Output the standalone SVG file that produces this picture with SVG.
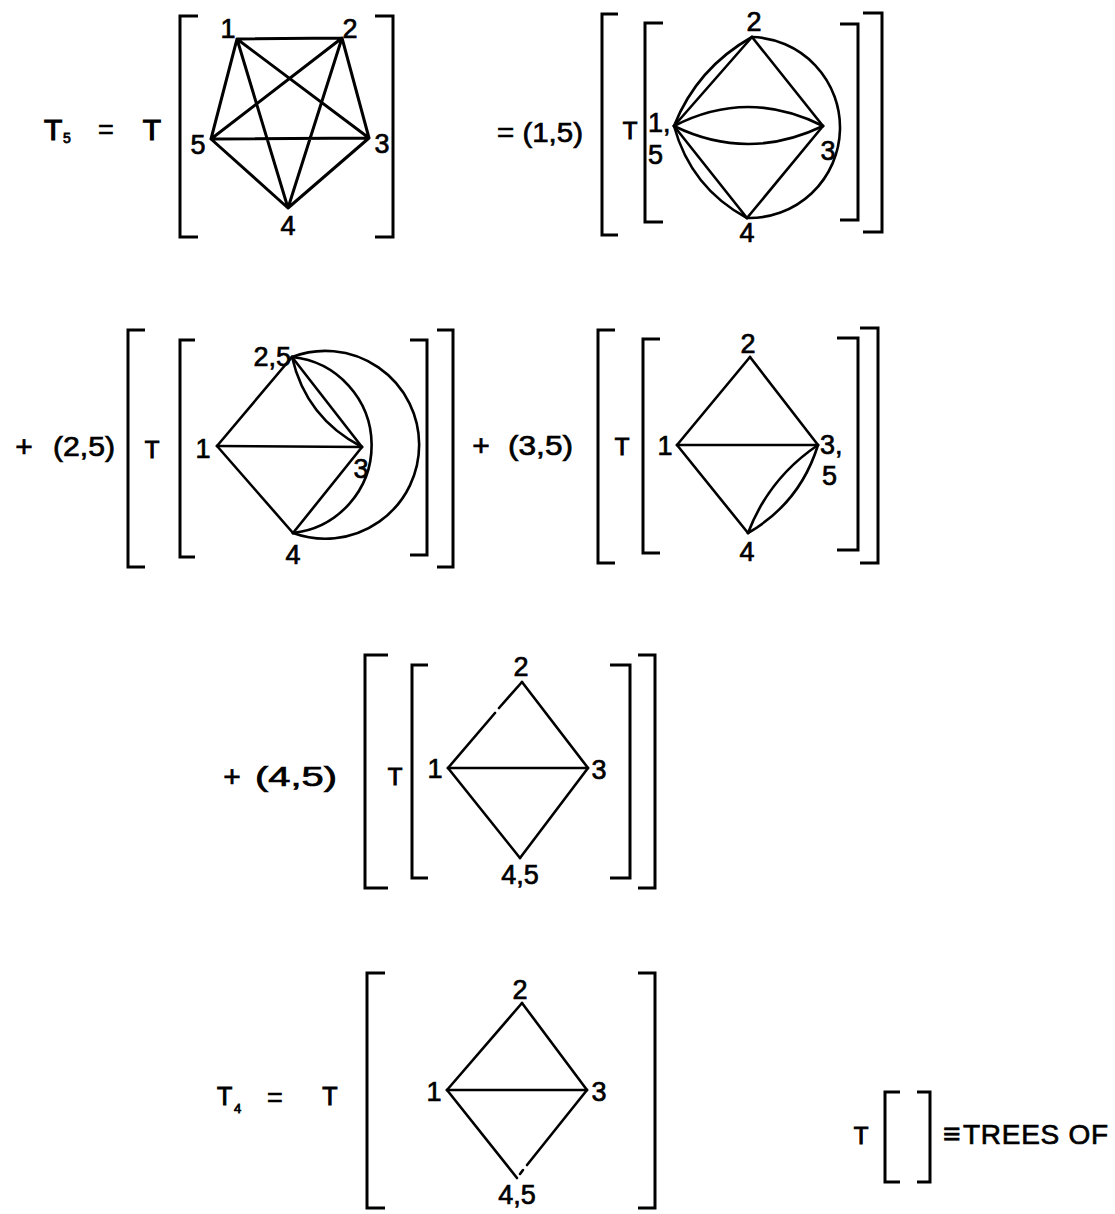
<svg xmlns="http://www.w3.org/2000/svg" width="1115" height="1214" viewBox="0 0 1115 1214">
<style>
  .bg { fill: #ffffff; }
  .e { fill: none; stroke: #000; stroke-width: 2.6; stroke-linecap: round; stroke-linejoin: round; }
  .e1 { fill: none; stroke: #000; stroke-width: 3; stroke-linecap: round; stroke-linejoin: round; }
  .br { fill: none; stroke: #000; stroke-width: 3; stroke-linecap: butt; stroke-linejoin: miter; }
  text { font-family: "Liberation Sans", "DejaVu Sans", Arial, sans-serif; fill: #000; stroke: #000; stroke-width: 0.7; }
  .lbl { font-size: 27px; }
  .big { font-size: 30px; stroke-width: 1.2; }
  .t { font-size: 24px; stroke-width: 1; }
  .op { font-size: 27px; }
  .sub { font-size: 14px; stroke-width: 0.8; }
  .mid { text-anchor: middle; }
  .end { text-anchor: end; }
</style>
<rect class="bg" x="0" y="0" width="1115" height="1214"/>

<!-- ============ Panel 1: T5 = T[K5] ============ -->
<g id="panel1">
  <g id="p1-lhs">
    <text class="big" x="44" y="140">T</text>
    <text class="sub" x="63" y="143">5</text>
    <text class="op mid" x="106" y="139">=</text>
    <text class="big mid" x="152" y="140">T</text>
  </g>
  <g id="p1-brackets">
    <path class="br" d="M198,16 H180 V237 H198"/>
    <path class="br" d="M375,16 H393 V237 H375"/>
  </g>
  <g id="p1-edges">
    <path class="e1" d="M237,39 L342,38 M237,39 L369,138 M237,39 L288,208 M237,39 L211,139 M342,38 L369,138 M342,38 L288,208 M342,38 L211,139 M369,138 L288,208 M369,138 L211,139 M288,208 L211,139"/>
  </g>
  <g id="p1-n1"><text class="lbl mid" x="228" y="38">1</text></g>
  <g id="p1-n2"><text class="lbl mid" x="350" y="38">2</text></g>
  <g id="p1-n3"><text class="lbl mid" x="382" y="153">3</text></g>
  <g id="p1-n4"><text class="lbl mid" x="288" y="235">4</text></g>
  <g id="p1-n5"><text class="lbl mid" x="198" y="154">5</text></g>
</g>

<!-- ============ Panel 2: = (1,5) T[ T[...] ] ============ -->
<g id="panel2">
  <g id="p2-lhs">
    <text class="op" x="497" y="142" textLength="86" lengthAdjust="spacingAndGlyphs">= (1,5)</text>
  </g>
  <g id="p2-brackets">
    <path class="br" d="M618,14 H602 V235 H618"/>
    <path class="br" d="M663,23 H645 V222 H663"/>
    <path class="br" d="M840,24 H858 V220 H840"/>
    <path class="br" d="M863,13 H882 V232 H863"/>
  </g>
  <text class="t mid" x="630" y="139">T</text>
  <g id="p2-edges">
    <path class="e" d="M674,126 L752,37"/>
    <path class="e" d="M674,126 Q697,68 752,37"/>
    <path class="e" d="M752,37 L823,126"/>
    <path class="e" d="M674,126 Q748,88 823,126"/>
    <path class="e" d="M674,126 Q748,162 823,126"/>
    <path class="e" d="M674,126 L747,218"/>
    <path class="e" d="M674,126 Q691,188 747,218"/>
    <path class="e" d="M747,218 L823,126"/>
    <path class="e" d="M752,37 A90 90 0 0 1 747,218"/>
  </g>
  <g id="p2-n15"><text class="lbl" x="648" y="132">1,<tspan x="648" dy="32">5</tspan></text></g>
  <g id="p2-n2"><text class="lbl mid" x="754" y="31">2</text></g>
  <g id="p2-n3"><text class="lbl mid" x="828" y="160">3</text></g>
  <g id="p2-n4"><text class="lbl mid" x="747" y="242">4</text></g>
</g>

<!-- ============ Panel 3: + (2,5) ============ -->
<g id="panel3">
  <g id="p3-lhs">
    <text class="op mid" x="24" y="457" style="font-size:30px">+</text>
    <text class="op" x="53" y="456" textLength="62" lengthAdjust="spacingAndGlyphs">(2,5)</text>
  </g>
  <g id="p3-brackets">
    <path class="br" d="M145,330 H128 V567 H145"/>
    <path class="br" d="M195,340 H180 V557 H195"/>
    <path class="br" d="M410,340 H427 V555 H410"/>
    <path class="br" d="M437,330 H453 V567 H437"/>
  </g>
  <text class="t mid" x="152" y="458">T</text>
  <g id="p3-edges">
    <path class="e" d="M217,446 L292,357"/>
    <path class="e" d="M217,446 L362,447"/>
    <path class="e" d="M217,446 L293,533"/>
    <path class="e" d="M292,357 L362,447"/>
    <path class="e" d="M292,357 Q306,418 362,447"/>
    <path class="e" d="M293,533 L362,447"/>
    <path class="e" d="M292,357 A88.5 88.5 0 0 1 293,533"/>
    <path class="e" d="M292,357 A93.9 93.9 0 1 1 293,533"/>
  </g>
  <g id="p3-n1"><text class="lbl mid" x="203" y="458">1</text></g>
  <g id="p3-n25"><text class="lbl end" x="291" y="366">2,5</text></g>
  <g id="p3-n3"><text class="lbl mid" x="361" y="478">3</text></g>
  <g id="p3-n4"><text class="lbl mid" x="293" y="564">4</text></g>
</g>

<!-- ============ Panel 4: + (3,5) ============ -->
<g id="panel4">
  <g id="p4-lhs">
    <text class="op mid" x="481" y="456" style="font-size:30px">+</text>
    <text class="op" x="508" y="455" textLength="65" lengthAdjust="spacingAndGlyphs">(3,5)</text>
  </g>
  <g id="p4-brackets">
    <path class="br" d="M615,330 H598 V563 H615"/>
    <path class="br" d="M660,339 H643 V553 H660"/>
    <path class="br" d="M837,338 H858 V550 H837"/>
    <path class="br" d="M860,328 H878 V563 H860"/>
  </g>
  <text class="t mid" x="622" y="455">T</text>
  <g id="p4-edges">
    <path class="e" d="M677,445 L750,357"/>
    <path class="e" d="M750,357 L818,445"/>
    <path class="e" d="M677,445 L818,445"/>
    <path class="e" d="M677,445 L748,533"/>
    <path class="e" d="M748,533 Q769,478 818,445"/>
    <path class="e" d="M748,533 Q800,503 818,445"/>
  </g>
  <g id="p4-n1"><text class="lbl mid" x="665" y="455">1</text></g>
  <g id="p4-n2"><text class="lbl mid" x="748" y="353">2</text></g>
  <g id="p4-n35"><text class="lbl" x="820" y="454">3,<tspan x="822" dy="31">5</tspan></text></g>
  <g id="p4-n4"><text class="lbl mid" x="747" y="561">4</text></g>
</g>

<!-- ============ Panel 5: + (4,5) ============ -->
<g id="panel5">
  <g id="p5-lhs">
    <text class="op mid" x="232" y="787" style="font-size:30px">+</text>
    <text class="op" x="255" y="786" textLength="82" lengthAdjust="spacingAndGlyphs">(4,5)</text>
  </g>
  <g id="p5-brackets">
    <path class="br" d="M388,655 H365 V888 H388"/>
    <path class="br" d="M428,665 H412 V878 H428"/>
    <path class="br" d="M610,665 H630 V878 H610"/>
    <path class="br" d="M638,655 H655 V888 H638"/>
  </g>
  <text class="t mid" x="395" y="785">T</text>
  <g id="p5-edges">
    <path class="e" d="M448,768 L495,713 M499,708 L522,682"/>
    <path class="e" d="M522,682 L588,768"/>
    <path class="e" d="M448,768 L588,768"/>
    <path class="e" d="M448,768 L520,858"/>
    <path class="e" d="M520,858 L588,768"/>
  </g>
  <g id="p5-n1"><text class="lbl mid" x="435" y="778">1</text></g>
  <g id="p5-n2"><text class="lbl mid" x="521" y="676">2</text></g>
  <g id="p5-n3"><text class="lbl mid" x="599" y="779">3</text></g>
  <g id="p5-n45"><text class="lbl mid" x="520" y="884">4,5</text></g>
</g>

<!-- ============ Panel 6: T4 = T[...] ============ -->
<g id="panel6">
  <g id="p6-lhs">
    <text class="t" x="217" y="1105" style="font-size:25px">T</text>
    <text class="sub" x="234" y="1113" style="font-size:13px">4</text>
    <text class="op mid" x="275" y="1107">=</text>
    <text class="t mid" x="330" y="1105" style="font-size:25px">T</text>
  </g>
  <g id="p6-brackets">
    <path class="br" d="M385,973 H367 V1208 H385"/>
    <path class="br" d="M638,973 H655 V1208 H638"/>
  </g>
  <g id="p6-edges">
    <path class="e" d="M447,1090 L522,1003"/>
    <path class="e" d="M522,1003 L587,1090"/>
    <path class="e" d="M447,1090 L587,1090"/>
    <path class="e" d="M447,1090 L517,1178"/>
    <path class="e" d="M520,1174 L523,1170 M527,1165 L587,1090"/>
  </g>
  <g id="p6-n1"><text class="lbl mid" x="434" y="1101">1</text></g>
  <g id="p6-n2"><text class="lbl mid" x="520" y="999">2</text></g>
  <g id="p6-n3"><text class="lbl mid" x="599" y="1101">3</text></g>
  <g id="p6-n45"><text class="lbl mid" x="517" y="1204">4,5</text></g>
</g>

<!-- ============ Legend ============ -->
<g id="legend">
  <text class="t mid" x="861" y="1144">T</text>
  <path class="br" d="M900,1092 H885 V1182 H900"/>
  <path class="br" d="M917,1092 H930 V1182 H917"/>
  <text class="op" x="943" y="1144" style="font-size:30px">≡</text>
  <text class="op" x="963" y="1144" textLength="145" lengthAdjust="spacing" style="font-size:28px">TREES OF</text>
</g>
</svg>
